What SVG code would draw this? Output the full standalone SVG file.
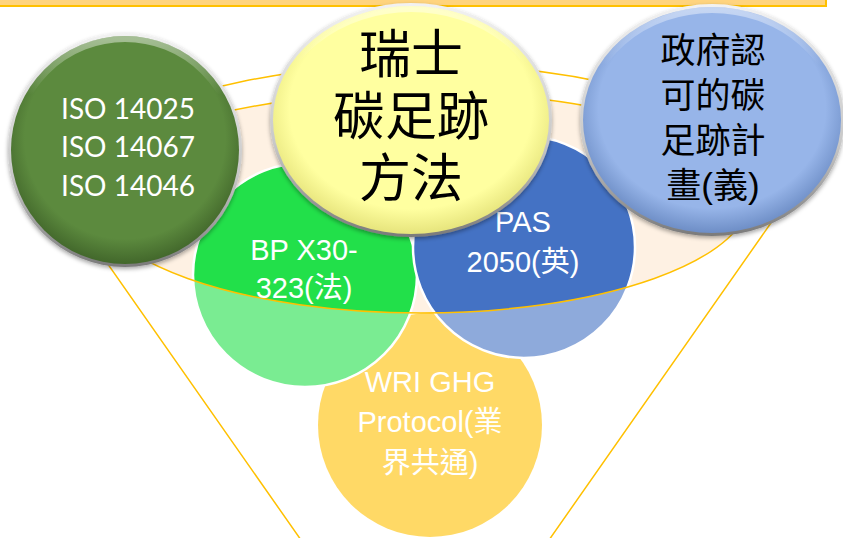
<svg xmlns="http://www.w3.org/2000/svg" width="843" height="538" viewBox="0 0 843 538">
<style>
.lbl{font-family:"Liberation Sans","Noto Sans CJK TC",sans-serif;font-size:29px;fill:#fff;text-anchor:middle}
.iso{font-family:Lato,"Open Sans",sans-serif;font-size:28px;fill:#fff;text-anchor:middle}
.blk{font-family:"Liberation Sans","Noto Sans CJK TC",sans-serif;fill:#000;text-anchor:middle}
.orange{fill:none;stroke:#FFC000;stroke-width:1.5}
.flat{stroke:#fff;stroke-width:2.5}
</style>
<defs>
<filter id="sh" x="-20%" y="-20%" width="140%" height="140%">
<feDropShadow dx="0" dy="2" stdDeviation="2" flood-color="#000" flood-opacity="0.35"/>
</filter>
<linearGradient id="rim" x1="0" y1="0" x2="0" y2="1">
<stop offset="0" stop-color="#f2f2f2"/>
<stop offset="0.6" stop-color="#c8c8c8"/>
<stop offset="1" stop-color="#7a7a7a"/>
</linearGradient>
<radialGradient id="gGreen" cx="0.5" cy="0.45" r="0.55">
<stop offset="0.8" stop-color="#5C8A3E"/>
<stop offset="1" stop-color="#42672B"/>
</radialGradient>
<radialGradient id="gYellow" cx="0.5" cy="0.45" r="0.55">
<stop offset="0.8" stop-color="#FFFFA0"/>
<stop offset="1" stop-color="#E6E47C"/>
</radialGradient>
<radialGradient id="gBlue" cx="0.5" cy="0.45" r="0.55">
<stop offset="0.8" stop-color="#97B5E9"/>
<stop offset="1" stop-color="#6E8EC6"/>
</radialGradient>
<linearGradient id="hi" x1="0" y1="0" x2="0" y2="1">
<stop offset="0" stop-color="#fff" stop-opacity="0.45"/>
<stop offset="0.25" stop-color="#fff" stop-opacity="0"/>
<stop offset="1" stop-color="#fff" stop-opacity="0"/>
</linearGradient>
</defs>

<rect id="topbar" x="-3" y="-3" width="829" height="9" fill="#FFD47E" stroke="#FFC000" stroke-width="2"/>

<g id="funnel-back">
<path id="hole" d="M91 195 A330 103 0 0 1 751 195 A330 118 0 0 1 91 195 Z" fill="#FEF1E3"/>
</g>

<g id="node-wri">
<circle cx="430" cy="425" r="112" fill="#FFC000"/>
</g>
<g id="node-bp">
<circle cx="305" cy="275" r="112" fill="#22E04A" class="flat"/>
</g>
<g id="node-pas">
<circle cx="524" cy="247" r="111" fill="#4472C4" class="flat"/>
</g>

<g id="connectors">
<path d="M100 136 A360 131 0 0 1 760 151 L787 200 L545.5 545 L304.5 545 L91 240 Z M91 195 A330 103 0 0 1 751 195 A330 118 0 0 1 91 195 Z" fill="#fff" fill-opacity="0.4" fill-rule="evenodd"/>
<path class="orange" d="M100 136 A360 131 0 0 1 760 151 M787 200 L545.5 545 M304.5 545 L91 240"/>
<path class="orange" d="M91 195 A330 103 0 0 1 751 195 A330 118 0 0 1 91 195 Z"/>
</g>

<g id="text-lower">
<text class="lbl" x="304" y="260">BP X30-</text>
<text class="lbl" x="304" y="298">323(法)</text>
<text class="lbl" x="523" y="232">PAS</text>
<text class="lbl" x="523" y="272">2050(英)</text>
<text class="lbl" x="430" y="392">WRI GHG</text>
<text class="lbl" x="430" y="432">Protocol(業</text>
<text class="lbl" x="430" y="473">界共通)</text>
</g>

<g id="node-iso">
<circle cx="125" cy="150" r="117" fill="url(#rim)" filter="url(#sh)"/>
<circle cx="125" cy="150" r="114" fill="url(#gGreen)"/>
<circle cx="125" cy="150" r="111" fill="none" stroke="url(#hi)" stroke-width="6"/>
<text class="iso" x="128" y="119">ISO 14025</text>
<text class="iso" x="128" y="157">ISO 14067</text>
<text class="iso" x="128" y="196">ISO 14046</text>
</g>

<g id="node-swiss">
<ellipse cx="411" cy="120" rx="141" ry="117" fill="url(#rim)" filter="url(#sh)"/>
<ellipse cx="411" cy="120" rx="138" ry="114" fill="url(#gYellow)"/>
<ellipse cx="411" cy="120" rx="135" ry="111" fill="none" stroke="url(#hi)" stroke-width="6"/>
<text class="blk" x="411" y="73" font-size="52">瑞士</text>
<text class="blk" x="411" y="135" font-size="52">碳足跡</text>
<text class="blk" x="411" y="197" font-size="52">方法</text>
</g>

<g id="node-gov">
<ellipse cx="712" cy="120" rx="132" ry="116" fill="url(#rim)" filter="url(#sh)"/>
<ellipse cx="712" cy="120" rx="129" ry="113" fill="url(#gBlue)"/>
<ellipse cx="712" cy="120" rx="126" ry="110" fill="none" stroke="url(#hi)" stroke-width="6"/>
<text class="blk" x="713" y="63" font-size="35">政府認</text>
<text class="blk" x="713" y="108" font-size="35">可的碳</text>
<text class="blk" x="713" y="153" font-size="35">足跡計</text>
<text class="blk" x="713" y="198" font-size="35">畫(義)</text>
</g>
</svg>
